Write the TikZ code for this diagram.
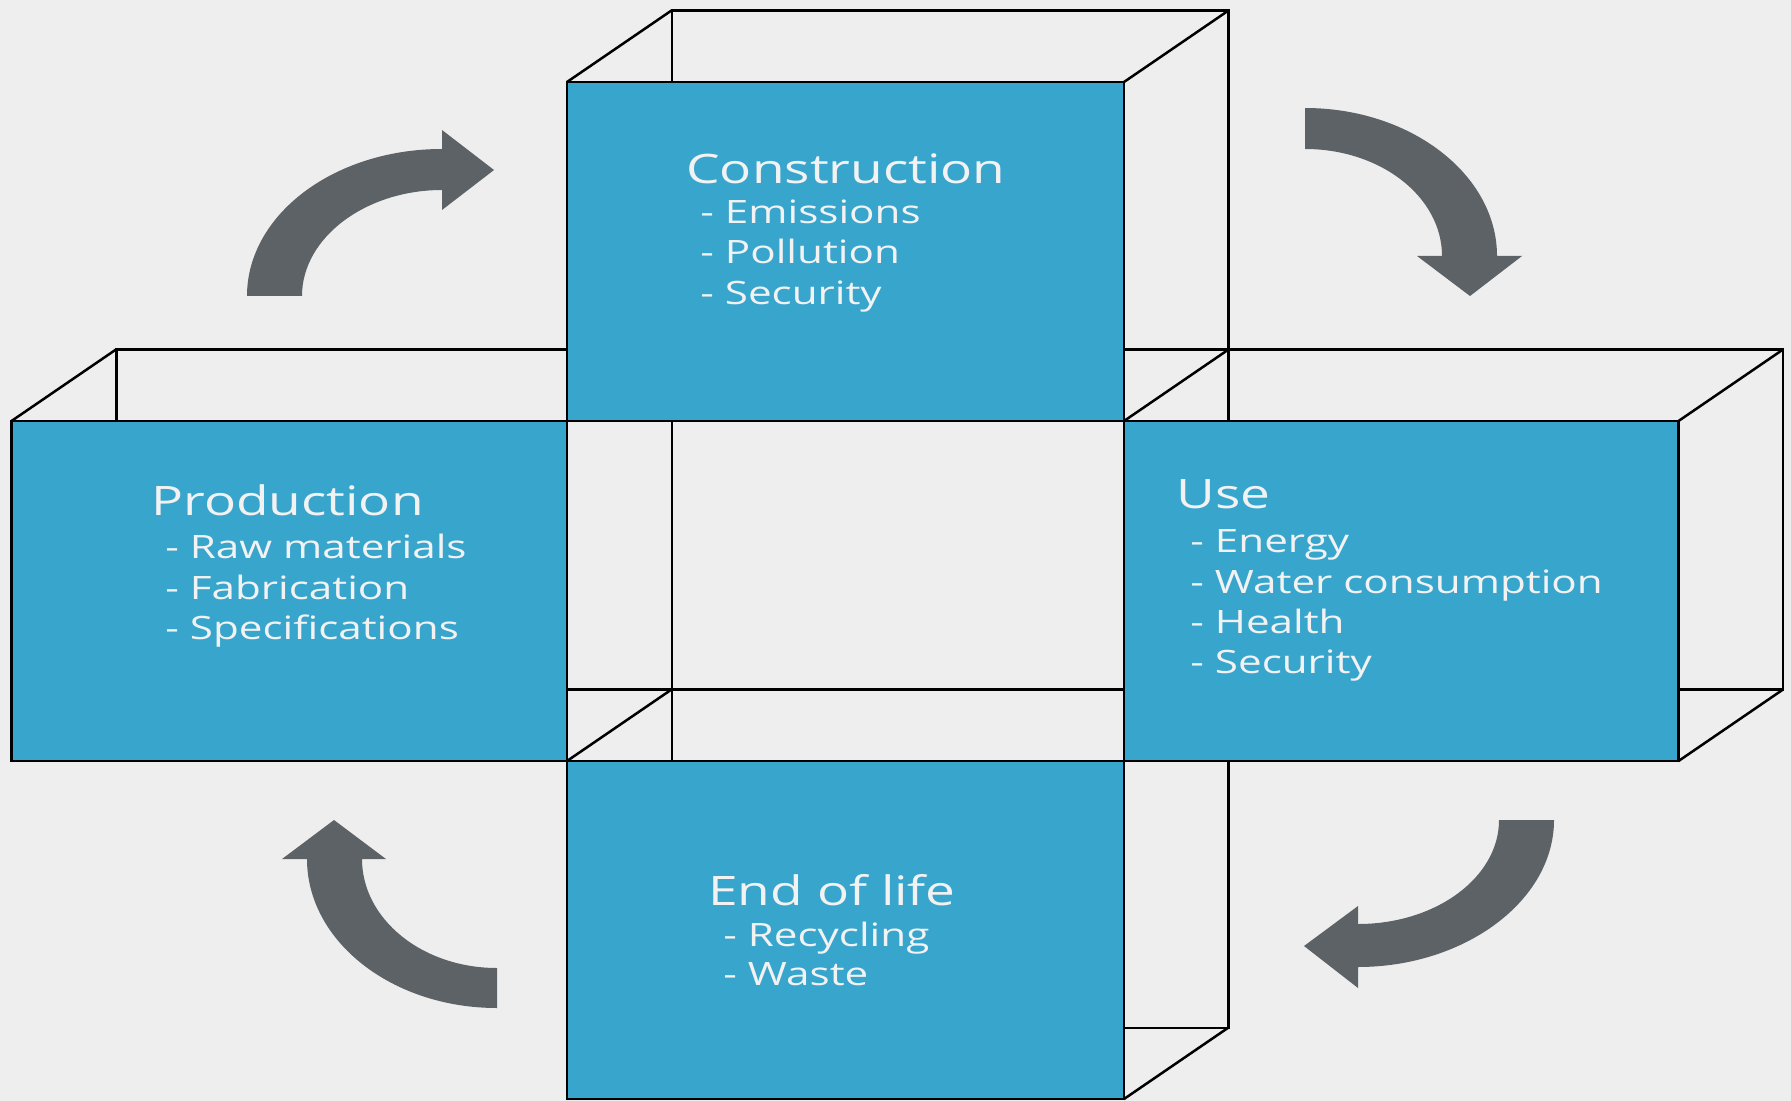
\documentclass[tikz,border=0pt]{standalone}
\usepackage{fontspec}
\setmainfont{Open Sans}[FakeStretch=1.31]
\definecolor{bgc}{HTML}{EEEEEE}
\definecolor{boxblue}{HTML}{38A5CD}
\definecolor{arrowgrey}{HTML}{5D6266}
\definecolor{txtc}{HTML}{F2F2F2}
\begin{document}
\begin{tikzpicture}[x=0.5pt,y=-0.5pt,line join=miter]
\tikzset{
  edge/.style={draw=black,line width=1.25pt},
  frontbox/.style={fill=boxblue,draw=black,line width=1.4pt},
  bigarrow/.style={fill=arrowgrey,draw=none},
  ttl/.style={anchor=base west,inner sep=0pt,text=txtc,font=\fontsize{20.3}{24}\selectfont},
  itm/.style={anchor=base west,inner sep=0pt,text=txtc,font=\fontsize{16.1}{19}\selectfont},
}
\fill[bgc] (0,0) rectangle (1791,1101);
\useasboundingbox (0,0) rectangle (1791,1101);
% back outlines
\draw[edge] (116.5,349.5) rectangle (1783,689.5);
\draw[edge] (672,10.5) rectangle (1228.5,1028);
% depth diagonals
\foreach \p in {(567,82),(1124,82),(567,421),(1124,421),(11.5,421),(11.5,761),(567,761),(1124,761),(1678.5,421),(1678.5,761),(567,1099),(1124,1099)}
  \draw[edge] \p -- ++(104.5,-71.5);
% front faces
\draw[frontbox] (567,82) rectangle (1124,421);
\draw[frontbox] (11.5,421) rectangle (567,761);
\draw[frontbox] (1124,421) rectangle (1678.5,761);
\draw[frontbox] (567,761) rectangle (1124,1099);
% texts
\node[ttl] (cT) at (686,184) {Construction};
\node[itm] (c1) at (700,224) {- Emissions};
\node[itm] (c2) at (700,264) {- Pollution};
\node[itm] (c3) at (700,305) {- Security};
\node[ttl] (pT) at (151,515.6) {Production};
\node[itm] (p1) at (165,558) {- Raw materials};
\node[itm] (p2) at (165,599) {- Fabrication};
\node[itm] (p3) at (165,639.6) {- Specifications};
\node[ttl] (uT) at (1176,508.6) {Use};
\node[itm] (u1) at (1190,552.5) {- Energy};
\node[itm] (u2) at (1190,593) {- Water consumption};
\node[itm] (u3) at (1190,633) {- Health};
\node[itm] (u4) at (1190,673) {- Security};
\node[ttl] (eT) at (708,905.6) {End of life};
\node[itm] (e1) at (723,946.4) {- Recycling};
\node[itm] (e2) at (723,985.7) {- Waste};
% curved arrows
\fill[bigarrow] (247,296) .. controls (247,214.8) and (334,149) .. (442,149)
  -- (442,130) -- (494,170) -- (442,210) -- (442,190)
  .. controls (365.8,190) and (302,237.5) .. (302,296) -- cycle;
\fill[bigarrow] (1305,108) .. controls (1411,108) and (1497,174.8) .. (1497,256)
  -- (1522,256) -- (1470,296) -- (1417,256) -- (1442,256)
  .. controls (1442,196.9) and (1380.7,149) .. (1305,149) -- cycle;
\fill[bigarrow] (1554,820) .. controls (1554,901.2) and (1464,967) .. (1358,967)
  -- (1358,988) -- (1304,946) -- (1358,906) -- (1358,924)
  .. controls (1435.9,924) and (1499,877.4) .. (1499,820) -- cycle;
\fill[bigarrow] (497,1008) .. controls (392,1008) and (307,941.3) .. (307,859)
  -- (282,859) -- (334,820) -- (386,859) -- (362,859)
  .. controls (362,919.2) and (422.4,968) .. (497,968) -- cycle;
\end{tikzpicture}
\end{document}
